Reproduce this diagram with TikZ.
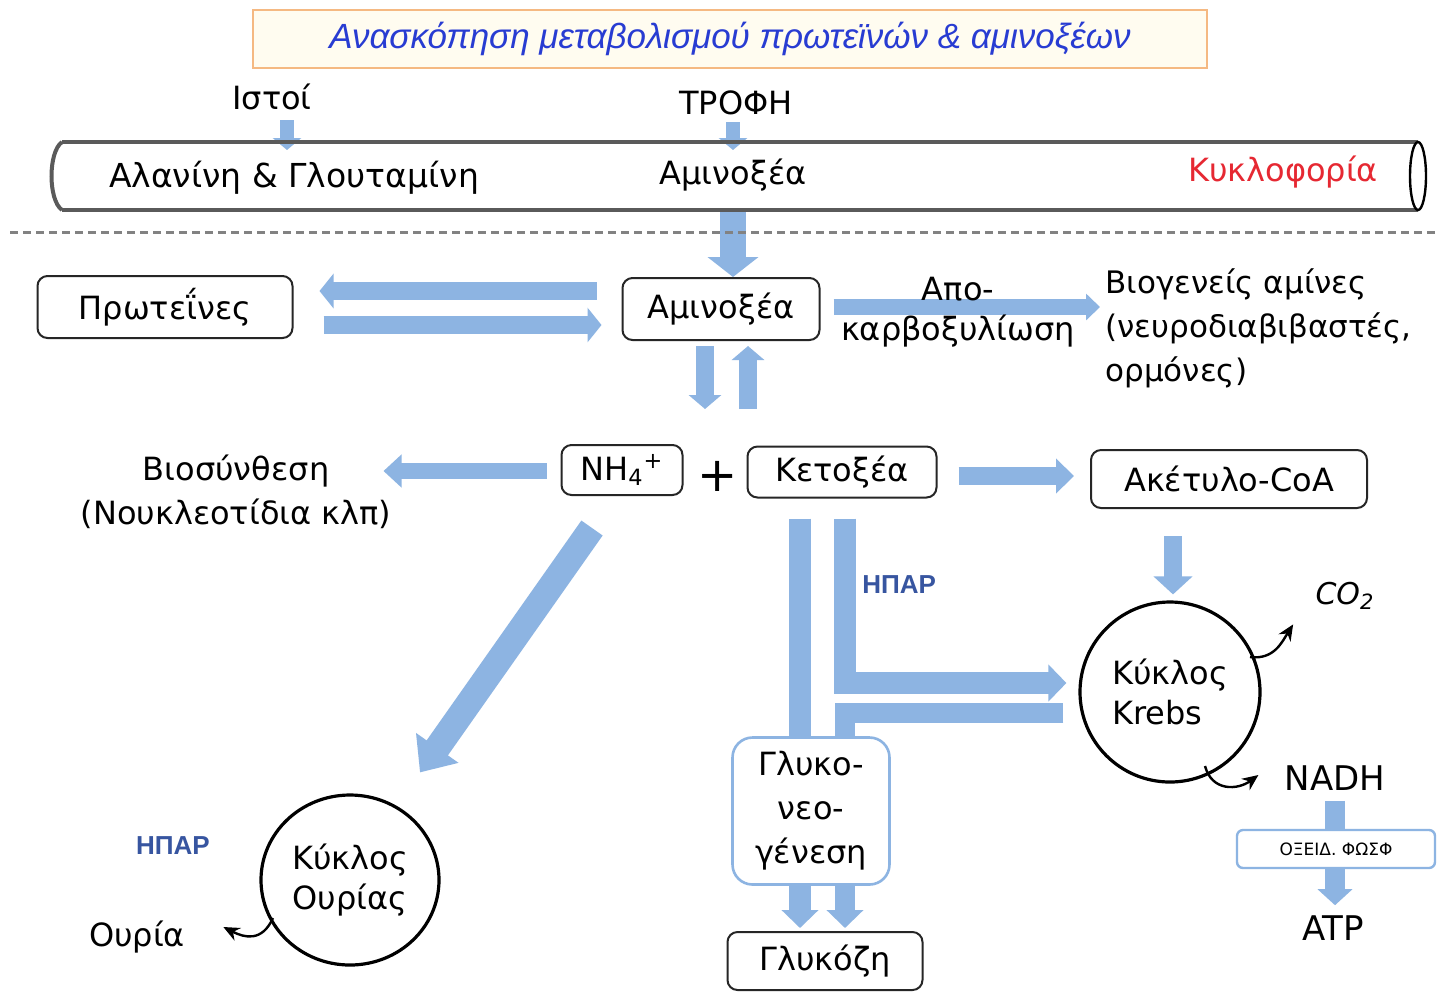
\documentclass[tikz,border=0pt]{standalone}
\usepackage{fontspec}
\setmainfont{DejaVu Sans}
\newfontfamily\titlefont{Liberation Sans}
\newfontfamily\hparfont{Liberation Sans}
\usetikzlibrary{arrows.meta,shapes.geometric,backgrounds,calc}
\definecolor{arrowc}{RGB}{141,180,226}
\definecolor{titleblue}{RGB}{40,60,210}
\definecolor{hparblue}{RGB}{55,85,160}
\definecolor{redc}{RGB}{230,40,50}
\definecolor{titleframe}{RGB}{245,185,130}
\definecolor{titlefill}{RGB}{255,252,240}
\definecolor{tubegray}{RGB}{90,90,90}
\definecolor{dashgray}{RGB}{130,130,130}
\begin{document}
\begin{tikzpicture}[x=0.5pt,y=-0.5pt,
  txt/.style={font=\fontsize{16}{19}\selectfont, inner sep=0pt},
  box/.style={draw=black!85, line width=1pt, rounded corners=5pt, fill=white,
    font=\fontsize{16}{19}\selectfont, inner sep=0pt},
  hpar/.style={font=\hparfont\bfseries\fontsize{13}{15}\selectfont, text=hparblue, inner sep=0pt},
  fat/.style n args={3}{draw=arrowc, line width=#1, -{Triangle[length=#2,width=#3]}},
  thin/.style={draw=black, line width=1.2pt, -{Stealth[length=8pt,width=7pt]}},
  cycle/.style={draw=black, line width=1.6pt, fill=white, font=\fontsize{16}{20}\selectfont, align=left, inner sep=0pt}
]
\useasboundingbox (0,0) rectangle (1440,993);

% title
\node[draw=titleframe, fill=titlefill, line width=1.2pt, minimum width=477pt, minimum height=29pt,
  font=\titlefont\itshape\fontsize{17.5}{20}\selectfont, text=titleblue, inner sep=0pt] (title) at (730,39)
  {Ανασκόπηση μεταβολισμού πρωτεϊνών \& αμινοξέων};

% top labels
\node[txt] (istoi) at (272,97) {Ιστοί};
\node[txt] (trofi) at (736,103) {ΤΡΟΦΗ};

% tube
\draw[tubegray, line width=2pt] (62,142) -- (1418,142);
\draw[tubegray, line width=2pt] (62,210) -- (1418,210);
\draw[tubegray, line width=2pt] (62,142) .. controls (48,152) and (48,200) .. (62,210);
\draw[black, line width=1.2pt, fill=white] (1418,176) ellipse [x radius=8, y radius=34];
\coordinate (tubetop) at (733,142);
\coordinate (tubebot) at (733,210);

\node[txt, font=\fontsize{16.5}{19}\selectfont] (alan) at (294,178) {Αλανίνη \& Γλουταμίνη};
\node[txt] (aminotube) at (733,175) {Αμινοξέα};
\node[txt, text=redc] (kykl) at (1283,172) {Κυκλοφορία};

% dashed separator
\draw[dashgray, line width=1.5pt, dash pattern=on 4pt off 2.5pt] (10,232) -- (1440,232);

% main boxes
\node[box, minimum width=127.5pt, minimum height=31pt] (prot) at (165,307) {Πρωτεΐνες};
\node[box, minimum width=98.5pt, minimum height=31pt] (amino) at (721,309) {Αμινοξέα};
\node[txt, anchor=west, align=left, font=\fontsize{15.5}{22}\selectfont] (biog) at (1105,328)
  {Βιογενείς αμίνες\\(νευροδιαβιβαστές,\\ορμόνες)};
\node[txt] (apo) at (958,289) {Απο-};
\node[txt] (karb) at (958,331) {καρβοξυλίωση};

\node[box, minimum width=60.5pt, minimum height=25pt] (nh4) at (622,470) {NH\textsubscript{4}\textsuperscript{+}};
\node[txt, font=\fontsize{24}{24}\selectfont] (plus) at (718,476) {+};
\node[box, minimum width=94.5pt, minimum height=25.5pt] (keto) at (842,472) {Κετοξέα};
\node[box, minimum width=138pt, minimum height=29pt] (acetyl) at (1229,479) {Ακέτυλο-CoA};

\node[txt, align=center, font=\fontsize{16}{22}\selectfont] (bios) at (236,492) {Βιοσύνθεση\\(Νουκλεοτίδια κλπ)};

\node[cycle, circle, minimum size=90pt] (krebs) at (1170,692) {Κύκλος\\Krebs};
\node[txt, font=\itshape\fontsize{15}{18}\selectfont] (co2) at (1345,596) {CO\textsubscript{2}};
\node[txt, font=\fontsize{17}{20}\selectfont] (nadh) at (1335,778) {NADH};
\node[draw=arrowc, line width=1.2pt, rounded corners=3pt, fill=white, minimum width=99pt, minimum height=19pt,
  inner sep=0pt, font=\fontsize{8.5}{10}\selectfont] (oxid) at (1336,849) {ΟΞΕΙΔ. ΦΩΣΦ};
\node[txt, font=\fontsize{17}{20}\selectfont] (atp) at (1333,928) {ATP};

\node[hpar, anchor=west] (hpar1) at (862,585) {ΗΠΑΡ};
\node[hpar] (hpar2) at (173,846) {ΗΠΑΡ};

\node[cycle, ellipse, minimum width=89pt, minimum height=85pt, align=center] (urea) at (350,880) {Κύκλος\\Ουρίας};
\node[txt] (ouria) at (137,937) {Ουρία};

\node[draw=arrowc, line width=1.3pt, rounded corners=10pt, fill=white, minimum width=78.5pt, minimum height=73.5pt,
  inner sep=0pt, align=center, font=\fontsize{16}{22}\selectfont] (gluconeo) at (811,811) {Γλυκο-\\νεο-\\γένεση};
\node[box, minimum width=97.5pt, minimum height=29pt] (glucose) at (825,961) {Γλυκόζη};

% block arrows
\begin{pgfonlayer}{background}
\fill[white] (0,0) rectangle (1440,993);
\draw[fat={7pt}{6pt}{14pt}] ($(istoi)+(15,23)$) -- ($(istoi)+(15,53)$);
\draw[fat={7pt}{6pt}{14pt}] ($(trofi)+(-3,19)$) -- ($(tubetop)+(0,8)$);
\draw[fat={13pt}{10pt}{25pt}] (tubebot) -- (amino.north -| tubebot);
\draw[fat={9pt}{7pt}{17pt}] ($(amino.west)+(-25,-18)$) -- ($(prot.east)+(26,-16)$);
\draw[fat={9pt}{7pt}{17pt}] ($(prot.east)+(30,18)$) -- ($(amino.west)+(-20,16)$);
\draw[fat={8pt}{7pt}{13pt}] ($(amino.east)+(13,-2)$) -- ($(biog.west)+(-5,-21)$);
\draw[fat={9pt}{7pt}{16pt}] ($(amino.south)+(-16,5)$) -- ($(nh4.north)+(83,-35)$);
\draw[fat={9pt}{7pt}{16pt}] ($(nh4.north)+(126,-35)$) -- ($(amino.south)+(27,5)$);
\draw[fat={8pt}{9pt}{16pt}] ($(nh4.west)+(-14,1)$) -- ($(nh4.west)+(-177,1)$);
\draw[fat={9pt}{9pt}{17pt}] ($(keto.east)+(21,4)$) -- ($(acetyl.west)+(-16,-3)$);
\draw[fat={9pt}{9pt}{19pt}] ($(acetyl.south)+(-56,27)$) -- ($(krebs.north)+(3,-6)$);
\draw[fat={13pt}{15pt}{25pt}] ($(nh4.south)+(-30,32)$) -- ($(urea.north)+(70,-21)$);
\draw[fat={11pt}{9pt}{18pt}] ($(keto.south)+(-42,20)$) -- ($(glucose.north)+(-25,-3)$);
\draw[fat={11pt}{9pt}{18pt}, line join=miter] ($(keto.south)+(3,20)$) -- (845,683) -- ($(krebs.west)+(-12,-9)$);
\draw[fat={10pt}{9pt}{18pt}, line join=miter] ($(krebs.west)+(-15,21)$) -- (845,713) -- ($(glucose.north)+(20,-3)$);
\draw[fat={10pt}{8pt}{17pt}] ($(nadh.south)+(0,10)$) -- ($(atp.north)+(2,-10)$);
\end{pgfonlayer}

% thin curved arrows
\draw[thin] (1250,657) .. controls (1274,660) and (1282,642) .. ($(co2.south west)+(-22,14)$);
\draw[thin] (1205,766) .. controls (1212,792) and (1238,790) .. ($(nadh.west)+(-26,-3)$);
\draw[thin] (273,918) .. controls (262,942) and (245,938) .. ($(ouria.east)+(38,-10)$);
\end{tikzpicture}
\end{document}
